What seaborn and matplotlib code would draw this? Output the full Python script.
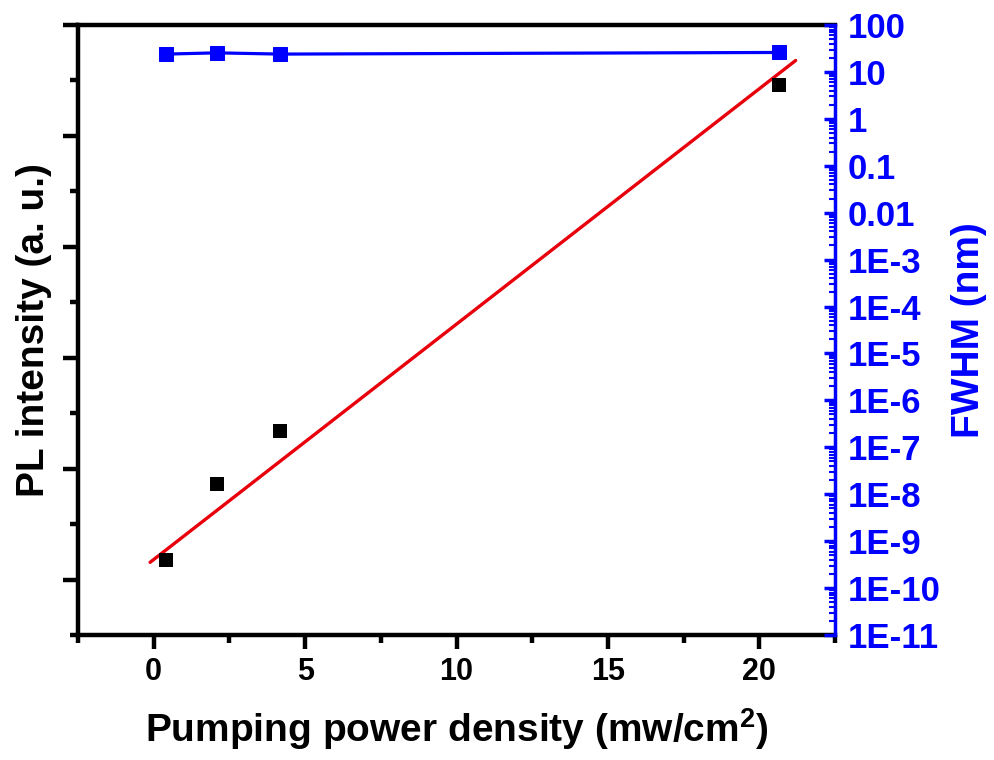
import numpy as np
import matplotlib
matplotlib.use("Agg")
import matplotlib.pyplot as plt
from matplotlib.ticker import MultipleLocator, FixedLocator, LogLocator, NullFormatter
import seaborn as sns

# data
power = [0.42, 2.08, 4.18, 20.66]          # mw/cm^2
pl_intensity = [0.36, 1.73, 2.68, 8.92]    # arbitrary units (no tick labels shown)
fit_power = [-0.12, 21.2]                  # red fitted line end points
fit_intensity = [0.31, 9.36]
fwhm = [24, 25.5, 24, 26]                  # nm, right log axis

fwhm_ticks = [1e2, 1e1, 1e0, 1e-1, 1e-2, 1e-3, 1e-4, 1e-5, 1e-6, 1e-7, 1e-8, 1e-9, 1e-10, 1e-11]
fwhm_tick_labels = ['100', '10', '1', '0.1', '0.01', '1E-3', '1E-4', '1E-5', '1E-6',
                    '1E-7', '1E-8', '1E-9', '1E-10', '1E-11']
x_ticks = [0, 5, 10, 15, 20]

sns.set_style("ticks")
plt.rcParams['font.family'] = ['Liberation Sans', 'DejaVu Sans']
plt.rcParams['font.weight'] = 'bold'
plt.rcParams['mathtext.fontset'] = 'custom'
plt.rcParams['mathtext.bf'] = 'Liberation Sans:bold'
plt.rcParams['mathtext.rm'] = 'Liberation Sans:bold'
plt.rcParams['mathtext.default'] = 'bf'
for key in ['text.color', 'axes.labelcolor', 'xtick.color', 'ytick.color', 'axes.edgecolor']:
    plt.rcParams[key] = 'black'

BLUE = '#0000ff'
RED = '#e8000b'

fig = plt.figure(figsize=(9.95, 7.6), dpi=100)
ax = fig.add_axes([0.0784, 0.1645, 0.7608, 0.8026])
ax2 = ax.twinx()

# PL intensity (black squares) and linear fit (red)
sns.lineplot(x=fit_power, y=fit_intensity, color=RED, linewidth=2.4, ax=ax, zorder=2)
sns.scatterplot(x=power, y=pl_intensity, marker='s', s=95, color='black',
                edgecolor='black', linewidth=0, ax=ax, zorder=3)

# FWHM on right log axis
sns.lineplot(x=power, y=fwhm, color=BLUE, linewidth=2.3, marker='s', markersize=9.5,
             markeredgecolor=BLUE, ax=ax2)

ax.set_xlim(-2.5, 22.5)
ax.set_ylim(-1, 10)
ax.xaxis.set_major_locator(FixedLocator(x_ticks))
ax.xaxis.set_minor_locator(MultipleLocator(2.5))
ax.yaxis.set_major_locator(MultipleLocator(2))
ax.yaxis.set_minor_locator(MultipleLocator(1))
ax.set_yticklabels([])
ax.tick_params(axis='x', which='major', direction='out', length=10, width=3.2,
               labelsize=22, pad=6, colors='black')
ax.tick_params(axis='x', which='minor', direction='out', length=6, width=3.2, colors='black')
ax.tick_params(axis='y', which='major', direction='out', length=11, width=3.2, colors='black')
ax.tick_params(axis='y', which='minor', direction='out', length=6, width=3.2, colors='black')
for lab in ax.get_xticklabels():
    lab.set_fontweight('bold')

ax2.set_yscale('log')
ax2.set_ylim(1e-11, 1e2)
ax2.set_yticks(fwhm_ticks)
ax2.set_yticklabels(fwhm_tick_labels)
ax2.yaxis.set_minor_locator(LogLocator(base=10, subs=np.arange(2, 10), numticks=100))
ax2.yaxis.set_minor_formatter(NullFormatter())
ax2.tick_params(axis='y', which='major', direction='in', length=8, width=2.5,
                color=BLUE, labelcolor=BLUE, labelsize=25, pad=9)
ax2.tick_params(axis='y', which='minor', direction='in', length=4.5, width=1.5, color=BLUE)

for side in ['left', 'bottom', 'top']:
    ax.spines[side].set_linewidth(3.2)
    ax.spines[side].set_color('black')
    ax2.spines[side].set_visible(False)
ax.spines['right'].set_visible(False)
ax2.spines['right'].set_color(BLUE)
ax2.spines['right'].set_linewidth(2.5)

ax.set_xlabel('Pumping power density (mw/cm$^2$)', fontsize=28, fontweight='bold', labelpad=14)
ax.set_ylabel('PL intensity (a. u.)', fontsize=28, fontweight='bold', labelpad=4)
ax2.set_ylabel('FWHM (nm)', fontsize=28, fontweight='bold', color=BLUE, labelpad=8)

fig.savefig('out.png', dpi=100)
